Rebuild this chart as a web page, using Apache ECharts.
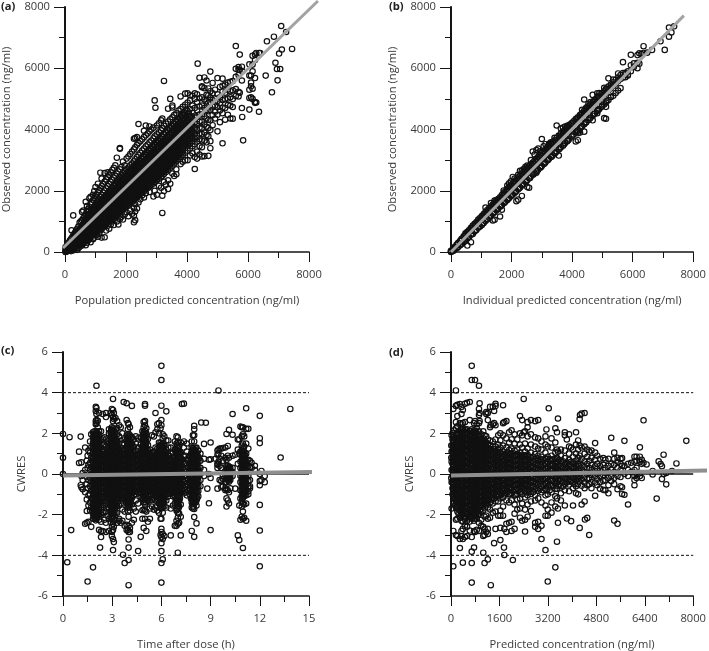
<!DOCTYPE html>
<html><head><meta charset="utf-8">
<style>html,body{margin:0;padding:0;background:#fff}#c{width:709px;height:651px}</style>
<script src="https://cdn.jsdelivr.net/npm/echarts@6/dist/echarts.min.js"></script></head>
<body><div id="c"></div>
<script>
// Each row: [x, [y, y, ...]]
const panelA = [
[15,[0,50,150]],[45,[10,90,170]],[80,[30,130,230]],[120,[40,180,300]],[160,[70,220,370]],[200,[30,130,270,430]],[215,[710]],[270,[1195]],
[240,[90,190,330,490]],[280,[60,150,260,400,560]],[320,[120,240,350,480,620]],[360,[170,290,420,560,690]],[400,[70,210,340,470,620,760]],
[440,[130,260,390,520,680,830]],[480,[170,300,440,570,730,960]],[520,[240,350,490,620,780,1000]],[560,[210,310,430,560,690,840,1040,1310]],
[600,[280,390,510,640,770,900,1100,1350]],[640,[340,460,580,700,830,970,1160]],[680,[220,410,530,650,770,900,1040,1240,1640]],
[720,[300,470,600,720,840,960,1110,1330,1500]],[760,[380,540,660,780,900,1020,1180,1400]],[800,[440,590,720,840,960,1080,1240,1480,1750]],
[840,[320,500,640,760,880,1000,1130,1300,1560,1800]],[880,[560,700,820,940,1060,1190,1350,1620]],[920,[420,610,750,870,990,1110,1240,1420,1700,1870]],
[960,[470,660,800,920,1040,1160,1290,1480,1760,1990]],[1000,[540,720,850,970,1090,1210,1340,1550,1820,2120]],[1040,[640,770,900,1020,1140,1260,1390,1620,1880]],
[1080,[500,700,820,950,1070,1190,1310,1450,1680,1950,2230]],[1120,[600,760,880,1000,1120,1240,1370,1510,1740,2020]],[1160,[700,820,940,1060,1180,1300,1430,1580,1810,2090,2590]],
[1200,[470,760,880,1000,1120,1240,1360,1490,1640,1870,2150,2400]],[1250,[800,940,1060,1180,1300,1420,1550,1700,1940,2220]],[1300,[480,860,1000,1120,1240,1360,1490,1620,1780,2010,2300,2580]],
[1350,[700,920,1060,1180,1300,1420,1550,1680,1840,2080,2370]],[1400,[860,980,1120,1240,1360,1490,1620,1750,1910,2150,2450,2600]],[1450,[760,1040,1170,1300,1430,1560,1690,1820,1980,2220,2520]],
[1500,[900,1090,1220,1350,1480,1610,1740,1870,2050,2290,2600]],[1550,[1000,1150,1280,1410,1540,1670,1800,1930,2110,2360,2680]],[1600,[880,1080,1210,1340,1470,1600,1730,1860,2000,2180,2430,2750]],
[1650,[1130,1260,1390,1520,1650,1780,1910,2050,2240,2490,2830]],[1700,[1000,1180,1310,1440,1570,1700,1830,1960,2110,2310,2560,3080]],[1750,[900,1240,1370,1500,1630,1760,1890,2020,2170,2370,2630]],
[1800,[1080,1290,1420,1550,1680,1810,1940,2070,2230,2440,2700,3370,3395]],[1850,[1150,1340,1470,1600,1730,1860,1990,2120,2290,2500,2770]],[1900,[1060,1390,1520,1650,1780,1910,2040,2180,2350,2570,2950]],
[1960,[1230,1440,1570,1700,1830,1960,2090,2240,2410,2630,2830]],[2020,[1300,1490,1620,1750,1880,2010,2140,2290,2470,2700,3050]],[2080,[1170,1540,1670,1800,1930,2060,2190,2340,2530,2760,3120]],
[2140,[1350,1590,1720,1850,1980,2110,2240,2400,2590,2830,3200]],[2200,[1250,1640,1770,1900,2030,2160,2300,2450,2650,2890,3280]],[2260,[970,1180,1440,1690,1820,1950,2080,2210,2350,2510,2710,2960,3350,3700]],
[2300,[1040,1320,1560,1740,1870,2000,2130,2260,2400,2570,2770,3030,3420,3720]],[2360,[1420,1790,1920,2050,2180,2310,2450,2620,2840,3100,3500,3750]],[2410,[1620,1840,1970,2100,2230,2360,2500,2680,2900,3170,3560,4180]],
[2470,[1720,1890,2020,2150,2280,2410,2560,2740,2970,3240,3620]],[2530,[1850,1940,2070,2200,2330,2460,2610,2800,3030,3310,3680]],[2590,[1780,1990,2120,2250,2380,2510,2670,2860,3090,3380,3750,3960]],
[2650,[1920,2040,2170,2300,2430,2570,2730,2920,3160,3450,3810,4130]],[2710,[2090,2220,2350,2480,2620,2790,2980,3220,3510,3870]],[2770,[1960,2140,2270,2400,2530,2680,2850,3050,3290,3580,3940,4100]],
[2830,[2190,2320,2450,2590,2740,2910,3110,3350,3640,4000]],[2900,[1810,2240,2370,2500,2640,2800,2980,3180,3420,3710,4060]],[2940,[2000,2290,2420,2550,2700,2860,3040,3250,3490,3780,4950]],
[2965,[4710]],[3010,[1870,2340,2470,2610,2760,2920,3100,3310,3550,3840,4130]],[3080,[2160,2390,2520,2670,2820,2990,3170,3380,3620,3910,4200]],
[3150,[2100,2440,2580,2730,2880,3050,3240,3450,3690,3970,4300]],[3190,[1275,1840,2490,2640,2790,2950,3120,3310,3520,3760,4040,4360]],[3245,[1990,2290,2550,2700,2860,3020,3190,3380,3590,3830,4120,5585]],
[3310,[2200,2610,2770,2930,3090,3260,3450,3660,3900,4190]],[3380,[2060,2340,2680,2840,3000,3160,3330,3520,3730,3970,4260,4680]],[3450,[2230,2750,2910,3070,3230,3400,3590,3800,4040,4330,5000]],
[3520,[2560,2820,2980,3140,3300,3470,3660,3870,4110,4400,4720,4780]],[3580,[2480,2890,3050,3210,3370,3540,3730,3940,4180,4470]],[3650,[2540,2700,2960,3120,3280,3440,3610,3800,4010,4250,4530]],
[3720,[3030,3190,3350,3510,3680,3870,4080,4320,4620]],[3790,[2870,3100,3260,3420,3580,3750,3940,4150,4390,4670,5080]],[3860,[2950,3170,3330,3490,3650,3820,4010,4220,4460,4740]],
[3940,[3000,3240,3400,3560,3720,3890,4080,4290,4530,4810,5170]],[4020,[3000,3310,3470,3630,3790,3960,4150,4360,4600,4880,5180]],[4100,[3150,3380,3540,3700,3860,4030,4220,4430,4670,4950,5120]],
[4180,[3220,3450,3620,3790,3960,4140,4330,4540,4780,5100]],[4255,[2710,3100,3520,3700,3870,4050,4240,4450,4700,5000,5180]],[4330,[3050,3280,3600,3790,3980,4180,4400,4630,4900,5150]],
[4350,[6150]],[4410,[3180,3460,3680,3870,4060,4270,4490,4750,5020,5690]],[4490,[3120,3420,3640,3850,4040,4250,4500,4780,5050,5380,5410]],[4570,[3130,3630,3900,4160,4430,4700,4980,5350,5700]],
[4640,[3580,3820,4090,4360,4640,4920,5130,5600]],[4700,[3140,3780,4050,4320,4600,4870,5120,5340]],[4765,[3390,3620,3980,4300,4640,4880,5050,5250,5890]],[4840,[4140,4470,4750,4960,5180,5520]],
[4920,[4360,4580,4780,5020,5300]],[5000,[3940,4480,4730,4930,5150,5680]],[5080,[4240,4620,4850,5050,5390]],[5165,[3550,4530,4720,4960,5240,5430,5660]],[5250,[4320,4700,4990,5200,5470]],
[5340,[4480,4800,5010,5300,5530]],[5420,[4360,4780,5050,5250,5560]],[5500,[4355,4735,5000,5280,5580]],[5600,[5090,5320,5720,5980,6725]],[5690,[5080,5230,5780,5950,6040]],
[5730,[6445,5950,5200]],[5800,[4700,5600,6050]],[5810,[4410,5900]],[5840,[3645]],[6045,[4650,5300,5030,5760,6130]],[6100,[5050,5530,5760,5410]],[6150,[5000,5330,5900,6410,6120]],
[6230,[4870,4900,5680,6270,6450]],[6270,[6500,4880]],[6360,[4580,6500]],[6400,[6500]],[6580,[5760]],[6620,[6880]],[6785,[5215]],[6850,[7030]],[6900,[6180]],[6950,[5975]],[6970,[5605]],
[7020,[6480]],[7055,[5975]],[7088,[7380]],[7110,[6610]],[7250,[7185]],[7445,[6630]],
// denser middle of the cloud
[300,[190,300,410,530]],[380,[240,370,500,640]],[460,[340,450,590,700]],[540,[270,400,530,660,800]],[620,[320,440,560,680,800,930]],[700,[360,480,600,700,820,940,1080,1200]],
[780,[460,600,710,820,930,1050,1190,1320]],[820,[500,650,770,890,1010,1140]],[860,[530,640,770,890,1010,1120,1260,1410]],[900,[590,720,840,960,1080,1200,1330]],[940,[560,700,810,930,1050,1170,1290,1430]],
[985,[640,760,880,1000,1120,1240,1370,1480]],[1020,[680,800,910,1030,1150,1280,1400,1510]],[1060,[720,850,970,1100,1220,1340,1470]],[1100,[730,840,960,1080,1200,1320,1440,1580]],[1140,[790,910,1030,1150,1270,1390,1530]],
[1180,[810,930,1050,1170,1290,1410,1540,1680]],[1225,[850,970,1090,1210,1330,1450,1590,1730]],[1270,[870,1000,1120,1240,1370,1490,1620,1770]],[1320,[930,1050,1180,1300,1430,1560,1690,1830]],[1370,[960,1090,1210,1340,1480,1610,1740,1880]],
[1420,[1020,1150,1280,1410,1540,1670,1810,1950]],[1470,[1090,1220,1340,1470,1600,1730,1860,2010]],[1525,[1100,1230,1360,1490,1620,1750,1890,2040]],[1580,[1140,1270,1400,1530,1670,1800,1940,2090]],[1630,[1190,1320,1460,1590,1730,1860,2000,2150]],
[1680,[1240,1370,1500,1640,1770,1910,2050,2200]],[1730,[1290,1430,1560,1700,1830,1970,2110,2260]],[1780,[1340,1480,1610,1750,1880,2010,2150,2300]],[1830,[1390,1530,1660,1800,1930,2060,2200,2360]],[1880,[1430,1570,1710,1850,1980,2120,2260,2420]],
[1930,[1480,1620,1760,1890,2030,2170,2310,2480]],[1990,[1530,1670,1810,1950,2090,2230,2370,2540]],[2050,[1580,1720,1860,2000,2140,2280,2430,2600]],[2110,[1630,1770,1910,2050,2190,2330,2490,2660]],[2170,[1680,1820,1960,2100,2240,2380,2540,2720]],
[2230,[1730,1870,2010,2150,2290,2430,2590,2780]],[2280,[1780,1920,2060,2190,2330,2480,2640,2830]],[2340,[1830,1970,2110,2250,2390,2540,2700,2890]],[2390,[1880,2030,2170,2310,2450,2600,2760,2950]],[2440,[1930,2080,2220,2360,2500,2650,2820,3010]],
[2500,[1980,2130,2270,2410,2560,2710,2880,3070]],[2560,[2040,2180,2320,2470,2620,2770,2940,3130]],[2620,[2090,2240,2380,2520,2670,2830,3000,3200]],[2680,[2140,2290,2430,2580,2730,2890,3060,3260]],[2740,[2190,2340,2490,2640,2790,2950,3130,3330]],
[2800,[2240,2390,2540,2690,2850,3010,3190,3390]],[2870,[2300,2450,2600,2750,2910,3080,3260,3460]],[2930,[2360,2510,2660,2820,2980,3150,3330,3530]],[2990,[2410,2560,2720,2880,3040,3210,3400,3600]],[3050,[2460,2620,2780,2940,3100,3270,3460,3660]],
[3110,[2530,2680,2840,3000,3160,3330,3520,3720]],[3170,[2580,2740,2900,3060,3220,3400,3590,3790]],[3230,[2640,2800,2960,3120,3280,3460,3650,3850]],[3290,[2690,2850,3010,3180,3350,3520,3710,3910]],[3350,[2760,2920,3080,3240,3410,3590,3780,3980]],
[3420,[2830,2990,3150,3310,3480,3650,3840,4050]],[3490,[2900,3060,3220,3380,3550,3720,3910,4110]],[3550,[2960,3120,3280,3450,3620,3800,3990,4190]],[3620,[3030,3190,3360,3530,3700,3880,4070,4260]],[3690,[3110,3270,3430,3600,3770,3950,4140,4330]],
[3760,[3180,3340,3500,3670,3840,4020,4210,4400]],[3830,[3250,3410,3580,3750,3920,4100,4290,4480]],[3900,[3480,3650,3820,3990,4170,4360,4550]],[3980,[3560,3730,3900,4070,4250,4440,4640]],[4060,[3630,3800,3970,4150,4330,4520]],[4140,[3710,3880,4060,4240,4420]]
];
const panelB = [
[0,[0,20,40]],[60,[30,90]],[120,[80,160]],[180,[120,230]],[240,[170,300]],[300,[220,360]],[360,[270,440]],[420,[320,510]],[480,[370,420,560,610]],[540,[210,440,600,660]],
[600,[490,660,720]],[660,[320,560,730,790]],[720,[590,790,860]],[780,[670,850,920]],[840,[720,920,980]],[900,[790,990,1060]],[960,[830,1040,1110]],[1020,[880,1110,1170]],
[1080,[950,1180,1240]],[1140,[1010,1240,1310,1450]],[1200,[1070,1300,1370]],[1260,[1120,1360,1430]],[1320,[1190,1420,1490,1600]],[1380,[1030,1250,1480,1550]],[1440,[1050,1310,1540,1610,1680]],
[1500,[1360,1600,1670,1690]],[1560,[1420,1660,1730,1710]],[1620,[1160,1480,1720,1790]],[1680,[1380,1530,1780,1860]],[1740,[1590,1840,1930,2010]],[1800,[1650,1910,1990]],[1860,[1700,1980,2060,2170]],
[1920,[1760,2040,2120,2240]],[1980,[1820,2100,2180,2310]],[2040,[1880,2160,2240,2450]],[2100,[1930,2220,2310,2400]],[2160,[1660,1990,2280,2370]],[2220,[1710,2050,2340,2440,2520]],[2280,[2110,2400,2500,2650]],
[2340,[1830,2170,2460,2560,2660]],[2400,[2230,2520,2620,2710]],[2460,[2290,2580,2680,2780]],[2520,[2120,2350,2640,2740,2820]],[2580,[2100,2410,2700,2800]],[2640,[2470,2760,2860,3000]],[2700,[2520,2820,2920,3280]],
[2760,[2580,2880,2980,3180]],[2820,[2590,2640,2940,3050,3330]],[2880,[2690,3000,3110,3380]],[2940,[2750,3060,3170,3290]],[3000,[2810,3120,3240,3690]],[3060,[2870,3180,3300,3450]],[3120,[2930,3240,3360,3520]],
[3180,[2990,3300,3420]],[3240,[3050,3360,3480,3530]],[3300,[3100,3420,3540,3580]],[3360,[3160,3480,3590]],[3420,[3220,3540,3650,3730]],[3490,[3280,3610,3730,4130]],[3560,[3150,3350,3680,3800]],
[3630,[3420,3750,3870,4030]],[3700,[3470,3820,3940,4060]],[3770,[3560,3890,4010,4100]],[3840,[3620,3960,4080,4120]],[3910,[3700,4030,4150]],[3980,[3770,4100,4200]],[4050,[3840,4170,4270]],
[4120,[3610,3910,4240,4340]],[4190,[3650,3880,3970,4300,4400]],[4260,[3900,4040,4370,4470]],[4330,[4110,4430,4540,4640]],[4400,[3930,4170,4510,4620,4980]],[4470,[4240,4570,4690,4720]],[4540,[4310,4640,4760,4840]],
[4610,[4380,4710,4830,4900]],[4680,[4300,4450,4780,4900,5130]],[4750,[4520,4850,4970,4980]],[4830,[4530,4600,4920,5040,5180]],[4900,[4670,4990,5110,5190]],[4980,[4740,5060,5180]],[5060,[4370,4820,5140,5250,5360]],
[5120,[4350,4740,4880,5210,5330]],[5200,[4960,5280,5400,5670]],[5280,[5060,5350,5470]],[5360,[5100,5420,5540,5630]],[5440,[5190,5500,5620]],[5520,[5270,5580,5700,5830]],[5600,[5350,5650,5780]],
[5680,[5700,5840,6200]],[5760,[5710,5850,5800]],[5840,[5760,5780,5900]],[5940,[5900,6100,6440]],[6040,[6040,6160]],[6160,[6000,6180,6430]],[6220,[6150,6490]],[6290,[6460]],[6360,[6720,6500]],[6480,[6510]],
[6640,[6600]],[6920,[6880]],[7060,[6600]],[7200,[7330,7030]],[7280,[7170]],[7370,[7370]],
// denser middle of the band
[90,[50,130]],[210,[140,260]],[330,[250,400]],[450,[370,530]],[570,[480,660]],[690,[600,770]],[810,[710,900]],[930,[830,1020]],[1050,[940,1150]],[1170,[1060,1270]],[1290,[1180,1400]],[1410,[1290,1530]],
[1530,[1400,1650]],[1650,[1510,1770]],[1770,[1620,1890]],[1890,[1740,2020]],[2010,[1850,2140]],[2130,[1970,2270]],[2250,[2080,2390]],[2370,[2190,2510]],[2490,[2310,2640]],[2610,[2420,2760]],[2730,[2540,2890]],
[2850,[2650,3010]],[2970,[2770,3140]],[3090,[2890,3260]],[3210,[3010,3390]],[3330,[3120,3510]],[3450,[3240,3640]],[3590,[3380,3790]],[3730,[3510,3930]],[3870,[3650,4070]],[4010,[3800,4210]],[4160,[3940,4360]],
[4300,[4080,4500]],[4440,[4220,4640]],[4580,[4360,4780]],[4720,[4500,4920]],[4860,[4640,5060]],[5000,[4780,5180]],[5140,[4920,5310]],[5280,[5060,5440]]
];
const panelC = [
[0,[0,0.8,1.97]],[0.26,[-4.34]],[0.4,[1.81]],[0.5,[-2.76]],[0.98,[0.54,1.1]],[1.08,[1.84,-0.55]],[1.12,[0.57,-0.65,-0.1]],[1.2,[0.05,-0.3,-0.75]],[1.35,[1.3,0.2,-0.9,-2.45]],
[1.45,[0.65,-0.15,-0.5,-1.25,-1.82,-2.4]],[1.5,[-5.29,0.3,0.9,-0.7]],[1.55,[1.15,0.45,-0.3,-1.05,-1.55,-2.35]],[1.65,[1.6,1.05,0.55,0.2,-0.2,-0.6,-1,-1.4,-1.8]],[1.72,[1.95,1.3,0.8,0.35,0,-0.4,-0.8,-1.2,-1.65,-2.6]],
[1.83,[-4.59,2.05,1.8,1.55,1.3,1.05,0.8,0.55,0.3,0.05,-0.2,-0.45,-0.7,-0.95,-1.2,-1.45,-1.7,-1.95,-2.2]],
[1.92,[2.1,1.88,1.66,1.42,1.18,0.94,0.7,0.46,0.22,-0.02,-0.26,-0.5,-0.74,-0.98,-1.22,-1.46,-1.7,-1.94,-2.2]],
[2,[3.3,3.1,2.6,2.45,1.98,1.76,1.54,1.3,1.06,0.82,0.58,0.34,0.1,-0.14,-0.38,-0.62,-0.86,-1.1,-1.34,-1.58,-1.82,-2.06,-2.28]],
[2.04,[4.34,3.24,2.95,2.65,2.5,2.1,1.88,1.64,1.4,1.16,0.92,0.68,0.44,0.2,-0.04,-0.28,-0.52,-0.76,-1,-1.24,-1.48,-1.72,-1.96,-2.2]],
[2.12,[2.62,2.3,2,1.76,1.52,1.28,1.04,0.8,0.56,0.32,0.08,-0.16,-0.4,-0.64,-0.88,-1.12,-1.36,-1.6,-1.84,-2.08]],
[2.2,[3,2.1,1.84,1.6,1.36,1.12,0.88,0.64,0.4,0.16,-0.08,-0.32,-0.56,-0.8,-1.04,-1.28,-1.52,-1.76,-2,-2.25,-2.75]],[2.26,[-3.62]],
[2.32,[2.1,1.7,1.3,1,0.72,0.46,0.2,-0.06,-0.32,-0.58,-0.84,-1.1,-1.36,-1.66,-2,-2.35,-2.82,-3.1]],[2.42,[2.95,1.75,1.4,1.1,0.84,0.58,0.32,0.06,-0.2,-0.46,-0.72,-0.98,-1.24,-1.54,-1.9,-2.8]],
[2.52,[1.8,1.45,1.16,0.9,0.64,0.38,0.12,-0.14,-0.4,-0.66,-0.92,-1.2,-1.55,-1.9,-2.25]],[2.62,[3,2.8,1.7,1.35,1.02,0.74,0.48,0.22,-0.04,-0.3,-0.56,-0.82,-1.1,-1.45,-1.85,-2.4,-2.85]],
[2.72,[1.6,1.25,0.95,0.68,0.42,0.16,-0.1,-0.36,-0.62,-0.88,-1.15,-1.5,-2.05]],[2.8,[2.2,2,1.55,1.2,0.9,0.62,0.36,0.1,-0.16,-0.42,-0.68,-0.94,-1.25,-1.7,-2.2,-2.8]],
[2.9,[3,2.05,1.8,1.5,1.2,0.92,0.64,0.38,0.12,-0.14,-0.4,-0.66,-0.92,-1.2,-1.5,-1.85,-2.1,-2.35]],
[2.98,[3.2,2.9,2.3,2.1,1.88,1.64,1.4,1.16,0.92,0.68,0.44,0.2,-0.04,-0.28,-0.52,-0.76,-1,-1.24,-1.48,-1.72,-1.96,-2.2,-2.6,-2.85,-3.05]],
[3.05,[3.69,3.15,2.8,2.6,2.25,2,1.76,1.52,1.28,1.04,0.8,0.56,0.32,0.08,-0.16,-0.4,-0.64,-0.88,-1.12,-1.36,-1.6,-1.84,-2.1,-2.45,-2.75,-3.2,-3.74]],
[3.1,[3,2.7,2.15,1.9,1.66,1.42,1.18,0.94,0.7,0.46,0.22,-0.02,-0.26,-0.5,-0.74,-0.98,-1.22,-1.46,-1.7,-1.95,-2.3,-2.6,-3.35]],
[3.2,[2.75,2.2,1.96,1.72,1.48,1.24,1,0.76,0.52,0.28,0.04,-0.2,-0.44,-0.68,-0.92,-1.16,-1.4,-1.64,-1.9,-2.25]],
[3.3,[2.6,2.25,1.95,1.65,1.35,1.08,0.82,0.56,0.3,0.04,-0.22,-0.48,-0.74,-1,-1.26,-1.56,-1.9,-2.4]],[3.42,[2.4,1.85,1.5,1.2,0.94,0.68,0.42,0.16,-0.1,-0.36,-0.62,-0.88,-1.18,-1.55,-2.3,-2.2]],
[3.52,[2.3,1.65,1.3,1.02,0.76,0.5,0.24,-0.02,-0.28,-0.54,-0.8,-1.08,-1.45,-2.4]],[3.62,[2,1.5,1.15,0.88,0.62,0.36,0.1,-0.16,-0.42,-0.68,-0.96,-1.3,-1.75,-2.3]],[3.66,[-3.97]],[3.7,[3.54]],[3.76,[-4.38,1.7,1.25,0.95,0.68,0.42,0.16,-0.1,-0.36,-0.62,-0.9,-1.25,-1.85,-2.55]],
[3.88,[3.48,2.65,1.9,1.6,1.32,1.06,0.8,0.54,0.28,0.02,-0.24,-0.5,-0.76,-1.02,-1.3,-1.6,-2.5,-2.75]],[3.96,[2.5,2.2,1.84,1.58,1.34,1.1,0.86,0.62,0.38,0.14,-0.1,-0.34,-0.58,-0.82,-1.06,-1.3,-1.55,-1.85,-2.75]],
[4,[-5.47,-4.23,-3.62,-3.22,-2.85,2.45,1.98,1.72,1.48,1.24,1,0.76,0.52,0.28,0.04,-0.2,-0.44,-0.68,-0.92,-1.16,-1.4,-1.66,-2.1,-2.55]],
[4.08,[2.3,1.9,1.64,1.4,1.16,0.92,0.68,0.44,0.2,-0.04,-0.28,-0.52,-0.76,-1,-1.24,-1.5,-1.8,-2.65,-2.85]],[4.2,[3.35,1.8,1.5,1.25,1,0.76,0.52,0.28,0.04,-0.2,-0.44,-0.68,-0.92,-1.18,-1.5,-2.4]],
[4.32,[1.7,1.35,1.06,0.8,0.54,0.28,0.02,-0.24,-0.5,-0.76,-1.05,-1.7,-2.25]],[4.44,[1.85,1.5,1.15,0.86,0.6,0.34,0.08,-0.18,-0.44,-0.7,-0.98,-1.3,-1.85]],[4.58,[-3.79,1.75,1.3,0.98,0.7,0.44,0.18,-0.08,-0.34,-0.6,-0.9,-1.45]],
[4.74,[-3.09,1.8,1.45,1.1,0.8,0.52,0.26,0,-0.26,-0.52,-0.8,-1.15]],[4.84,[2.1,1.7,1.35,1.04,0.76,0.5,0.24,-0.02,-0.28,-0.54,-0.82,-1.2,-1.78,-2.2]],
[4.92,[2.55,2.3,2.05,1.8,1.55,1.3,1.06,0.82,0.58,0.34,0.1,-0.14,-0.38,-0.62,-0.86,-1.1,-1.4,-1.75,-2.65]],[5,[3.44,3.36,2.6,2.4,2.12,1.88,1.64,1.4,1.16,0.92,0.68,0.44,0.2,-0.04,-0.28,-0.52,-0.76,-1,-1.25,-1.5,-1.8,-2.2]],
[5.08,[2.25,2,1.76,1.52,1.28,1.04,0.8,0.56,0.32,0.08,-0.16,-0.4,-0.64,-0.88,-1.12,-1.4,-1.85,-2.8]],[5.18,[1.72,1.42,1.16,0.92,0.68,0.44,0.2,-0.04,-0.28,-0.52,-0.76,-1.02,-1.3,-2.35]],
[5.3,[1.2,0.96,0.72,0.48,0.24,0,-0.24,-0.48,-0.72,-0.98,-1.3,-1.7,-2.2]],[5.42,[1.9,1.05,0.8,0.56,0.32,0.08,-0.16,-0.4,-0.64,-0.9,-1.25,-1.6]],[5.54,[1.85,1.1,0.85,0.6,0.36,0.12,-0.12,-0.36,-0.6,-0.86,-1.2,-1.75]],
[5.64,[3,2.05,1.3,0.95,0.68,0.42,0.16,-0.1,-0.36,-0.62,-0.9,-1.3,-1.65]],[5.75,[2.45,2.2,1.25,0.92,0.66,0.4,0.14,-0.12,-0.38,-0.64,-0.94,-1.35,-1.8]],[5.85,[2.5,2,1.55,1.25,1,0.74,0.48,0.22,-0.04,-0.3,-0.56,-0.82,-1.1,-1.45,-1.9]],
[5.95,[2.25,1.55,1.3,1.06,0.82,0.58,0.34,0.1,-0.14,-0.38,-0.62,-0.86,-1.1,-1.35,-1.65,-2.2,-3]],[6,[5.32,4.62,3.36,2.65,2.4,1.45,1.2,0.96,0.72,0.48,0.24,0,-0.24,-0.48,-0.72,-0.96,-1.2,-1.44,-1.7,-2.2,-2.7,-2.85,-3.1,-3.4,-3.79,-4.38,-5.34]],
[6.08,[-4.2,1.95,1.75,1.52,1.28,1.04,0.8,0.56,0.32,0.08,-0.16,-0.4,-0.64,-0.88,-1.12,-1.36,-1.62,-1.9,-2.95,-3.2]],[6.18,[1.85,1.4,1.16,0.92,0.68,0.44,0.2,-0.04,-0.28,-0.52,-0.76,-1,-1.28,-1.58,-3.05]],
[6.3,[3.08,1.65,1.2,0.94,0.7,0.46,0.22,-0.02,-0.26,-0.5,-0.74,-1,-1.3,-1.65]],[6.42,[1.65,1.3,0.92,0.66,0.42,0.18,-0.06,-0.3,-0.54,-0.8,-1.1]],[6.57,[-3.02,1.3,1,0.74,0.48,0.22,-0.04,-0.3,-0.56,-0.82,-1.7]],
[6.7,[1.05,0.8,0.54,0.28,0.02,-0.24,-0.5,-0.78,-1.1,-1.55]],[6.82,[1.6,1.2,0.8,0.54,0.28,0.02,-0.24,-0.5,-0.8,-1.1,-1.45,-2.55]],[6.92,[1.85,1.5,1.18,0.92,0.68,0.44,0.2,-0.04,-0.28,-0.52,-0.76,-1,-1.24,-1.5,-1.8,-2.3,-2.55]],
[7,[-3.87,1.8,1.55,1.28,1.04,0.8,0.56,0.32,0.08,-0.16,-0.4,-0.64,-0.88,-1.12,-1.36,-1.6,-1.9,-2.15,-2.45]],[7.08,[1.35,1.12,0.88,0.64,0.4,0.16,-0.08,-0.32,-0.56,-0.8,-1.04,-1.3,-1.6,-1.95,-2.4]],
[7.18,[-3.02,1.55,1.05,0.8,0.56,0.32,0.08,-0.16,-0.4,-0.64,-0.9,-1.5,-2.1]],[7.25,[3.44]],[7.37,[3.46,1.6,1.3,0.85,0.5,0.2,-0.1,-0.4,-0.7,-0.95]],[7.55,[1.5,1.1,0.72,0.42,0.12,-0.18,-0.48,-0.78,-1.05]],
[7.72,[0.85,0.5,0.2,-0.1,-0.4,-0.7,-1]],[7.85,[1.6,1.3,1.05,0.8,0.56,0.32,0.08,-0.16,-0.4,-0.64,-0.88,-1.12,-1.4,-1.65,-2.8]],[7.92,[1.9,1.25,1.02,0.78,0.54,0.3,0.06,-0.18,-0.42,-0.66,-0.9,-1.14,-1.4,-1.7]],
[8,[2.37,2.2,1.9,1.6,1.2,0.96,0.72,0.48,0.24,0,-0.24,-0.48,-0.72,-0.96,-1.2,-1.45,-1.72,-2.12,-3.09]],[8.08,[1.28,1.04,0.8,0.56,0.32,0.08,-0.16,-0.4,-0.64,-0.88,-1.12,-1.4]],[8.14,[-2.43,1.3,0.9,0.66,0.42,0.18,-0.06,-0.3,-0.54,-0.78,-1.02,-1.3,-1.55]],
[8.25,[1.15,0.85,0.6,0.36,0.12,-0.12,-0.36,-0.6,-0.84,-1.1]],[8.38,[1,0.65,0.3,0,-0.3,-0.6]],[8.43,[2.53]],[8.6,[1.48,0.75,0.2,-0.1]],[8.71,[2.52]],[8.8,[-0.72]],[8.9,[-1.44,0.7,0]],[9,[1.55,-2.76,-0.2,0.72]],[9.3,[0.75]],
[9.42,[1.15,0.95,0.5,0.45,-0.72,0.3]],[9.48,[4.11,1.2,1,0.6]],[9.55,[1.25,0.75,0.4,-0.3]],[9.65,[1.25,0.9,0.3,-0.65,-0.35]],[9.75,[1.28,0.65,-0.25,-0.6,-0.1]],[9.9,[1.3,0.8,0.15,-0.1,-0.4,-0.7,-0.8]],
[9.97,[1.97,0.7,0.4,0.2,0,-0.2,-0.4,-0.75,-1.2,-1.6]],[10.05,[1.38,0.9,0.42,0.28,0.14,0,-0.14,-0.3,-0.8,-1.3]],[10.12,[2.17,0.8,0.36,0.22,0.08,-0.08,-0.22,-0.38,-0.9,-1.45]],[10.2,[0.3,0.15,0,-0.15,-0.3,-0.7]],[10.34,[2.95,1.93,0.9,0.3,0.1,-0.1]],
[10.5,[0.95,-0.72]],[10.66,[1.7,1.2,-3.02,0.5]],[10.75,[-3.25,1.7,1,-1.55]],[10.82,[2.33,1.1,0.6,0.3,-0.1,-0.4,-0.8,-1.2,-2.25]],[10.9,[2.3,1.85,1.4,1.1,0.85,0.6,0.36,0.12,-0.12,-0.36,-0.6,-0.84,-1.08,-1.35,-1.6,-2.1]],
[10.97,[-3.64,2.3,1.95,1.5,1.25,1,0.76,0.52,0.28,0.04,-0.2,-0.44,-0.68,-0.92,-1.16,-1.45,-1.85,-2.2]],[11.05,[1.85,1.35,1.08,0.84,0.6,0.36,0.12,-0.12,-0.36,-0.6,-0.84,-1.1,-1.5,-2.15]],[11.17,[3.23,2.22,1.5,1,0.7,0.45,0.2,-0.05,-0.3,-0.55,-0.8,-1.05,-1.45,-2.3]],
[11.3,[2.22,1.25,0.7,0.4,0.15,-0.1,-0.35,-0.6,-0.85,-1]],[11.4,[0.65,0.35,-0.3,-0.6,-0.7]],[11.5,[0.55,0.3]],[11.7,[0.4,0.2]],[12,[2.86,1.76,1.52,-0.35,-0.55,0,-1.52,-2.78,-4.54]],[12.1,[-0.3,0.15]],[12.3,[-0.1,-0.4]],[13.27,[0.81]],[13.86,[3.2]],
// denser middle of each time column
[1.88,[1.95,1.7,1.45,1.2,0.95,0.7,0.45,0.2,-0.08,-0.33,-0.58,-0.83,-1.08,-1.33,-1.58,-1.83,-2.08]],[1.97,[1.9,1.65,1.42,1.18,0.94,0.7,0.46,0.22,-0.02,-0.26,-0.5,-0.74,-0.98,-1.22,-1.46,-1.7,-1.94,-2.18]],
[2.08,[1.95,1.7,1.46,1.22,0.98,0.74,0.5,0.26,0.02,-0.22,-0.46,-0.7,-0.94,-1.18,-1.42,-1.66,-1.9,-2.14]],[2.16,[1.9,1.66,1.42,1.18,0.94,0.7,0.46,0.22,-0.02,-0.26,-0.5,-0.74,-0.98,-1.22,-1.46,-1.7,-1.94]],
[2.37,[1.2,0.9,0.6,0.34,0.08,-0.18,-0.44,-0.7,-0.96,-1.22]],[2.47,[0.95,0.7,0.44,0.18,-0.08,-0.34,-0.6,-0.86,-1.12]],[2.57,[1,0.76,0.5,0.24,-0.02,-0.28,-0.54,-0.8,-1.06]],[2.67,[0.9,0.62,0.36,0.1,-0.16,-0.42,-0.68,-0.94]],[2.76,[1.05,0.78,0.52,0.26,0,-0.26,-0.52,-0.78,-1.04]],[2.85,[1.35,1.06,0.78,0.5,0.24,-0.02,-0.28,-0.54,-0.8,-1.08,-1.4]],
[2.94,[2.2,1.98,1.74,1.5,1.26,1.02,0.78,0.54,0.3,0.06,-0.18,-0.42,-0.66,-0.9,-1.14,-1.38,-1.62,-1.86]],[3.02,[2.15,1.9,1.66,1.42,1.18,0.94,0.7,0.46,0.22,-0.02,-0.26,-0.5,-0.74,-0.98,-1.22,-1.46,-1.7,-1.95]],[3.14,[2.05,1.82,1.58,1.34,1.1,0.86,0.62,0.38,0.14,-0.1,-0.34,-0.58,-0.82,-1.06,-1.3,-1.54,-1.8]],
[3.25,[1.6,1.36,1.12,0.88,0.64,0.4,0.16,-0.08,-0.32,-0.56,-0.8,-1.04,-1.28,-1.52]],[3.36,[1.3,1.02,0.76,0.5,0.24,-0.02,-0.28,-0.54,-0.8,-1.06,-1.35]],[3.47,[1.1,0.86,0.6,0.34,0.08,-0.18,-0.44,-0.7,-0.98]],[3.57,[0.95,0.68,0.42,0.16,-0.1,-0.36,-0.62,-0.9,-1.2]],[3.67,[1,0.75,0.48,0.22,-0.04,-0.3,-0.56,-0.84,-1.15]],[3.82,[1.2,0.94,0.68,0.42,0.16,-0.1,-0.36,-0.62,-0.88,-1.16]],
[3.92,[1.75,1.5,1.24,1,0.74,0.5,0.26,0.02,-0.22,-0.46,-0.7,-0.94,-1.18,-1.42]],[4.04,[1.85,1.6,1.36,1.12,0.88,0.64,0.4,0.16,-0.08,-0.32,-0.56,-0.8,-1.04,-1.28,-1.55]],[4.14,[1.55,1.3,1.06,0.82,0.58,0.34,0.1,-0.14,-0.38,-0.62,-0.86,-1.12,-1.4]],
[4.26,[1.15,0.9,0.64,0.38,0.12,-0.14,-0.4,-0.66,-0.92]],[4.38,[0.95,0.7,0.44,0.18,-0.08,-0.34,-0.6,-0.86]],[4.5,[0.95,0.72,0.46,0.2,-0.06,-0.32,-0.58,-0.84]],[4.66,[1,0.72,0.46,0.2,-0.06,-0.32,-0.58,-0.88]],[4.78,[1.2,0.9,0.62,0.36,0.1,-0.16,-0.42,-0.68,-0.96]],
[4.88,[1.95,1.7,1.44,1.18,0.94,0.7,0.46,0.22,-0.02,-0.26,-0.5,-0.74,-0.98,-1.24]],[4.96,[2,1.76,1.52,1.28,1.04,0.8,0.56,0.32,0.08,-0.16,-0.4,-0.64,-0.88,-1.12,-1.38]],[5.04,[1.95,1.7,1.46,1.22,0.98,0.74,0.5,0.26,0.02,-0.22,-0.46,-0.7,-0.94,-1.18]],
[5.24,[1.05,0.8,0.56,0.32,0.08,-0.16,-0.4,-0.64,-0.88,-1.14]],[5.36,[0.92,0.68,0.44,0.2,-0.04,-0.28,-0.52,-0.78,-1.05]],[5.48,[0.96,0.72,0.48,0.24,0,-0.24,-0.48,-0.74,-1]],[5.6,[0.82,0.56,0.3,0.04,-0.22,-0.48,-0.76,-1.05]],[5.7,[0.78,0.52,0.26,0,-0.26,-0.52,-0.8,-1.12]],[5.8,[1.1,0.86,0.6,0.34,0.08,-0.18,-0.44,-0.7,-0.96,-1.25]],
[5.9,[1.4,1.18,0.94,0.7,0.46,0.22,-0.02,-0.26,-0.5,-0.74,-0.98,-1.22,-1.48]],[5.98,[1.35,1.1,0.86,0.62,0.38,0.14,-0.1,-0.34,-0.58,-0.82,-1.06,-1.32,-1.58]],[6.04,[1.42,1.16,0.92,0.68,0.44,0.2,-0.04,-0.28,-0.52,-0.76,-1,-1.26,-1.52]],[6.13,[1.3,1.04,0.8,0.56,0.32,0.08,-0.16,-0.4,-0.64,-0.88,-1.14,-1.42]],
[6.24,[1.05,0.82,0.58,0.34,0.1,-0.14,-0.38,-0.62,-0.86,-1.14]],[6.36,[0.8,0.54,0.3,0.06,-0.18,-0.42,-0.68,-0.96]],[6.5,[0.88,0.6,0.34,0.08,-0.18,-0.44,-0.7,-0.98]],[6.62,[0.66,0.4,0.14,-0.12,-0.38,-0.66,-0.95]],[6.76,[0.68,0.42,0.16,-0.1,-0.36,-0.64,-0.94]],
[6.87,[1.05,0.68,0.42,0.16,-0.1,-0.36,-0.62,-0.9,-1.25]],[6.96,[1.42,1.16,0.92,0.68,0.44,0.2,-0.04,-0.28,-0.52,-0.76,-1,-1.24,-1.48,-1.74]],[7.04,[1.25,1,0.76,0.52,0.28,0.04,-0.2,-0.44,-0.68,-0.92,-1.16,-1.42,-1.7]],[7.13,[1,0.76,0.52,0.28,0.04,-0.2,-0.44,-0.68,-0.94,-1.2]],
[7.3,[0.7,0.34,0.04,-0.26,-0.55,-0.82]],[7.46,[0.9,0.55,0.26,-0.04,-0.32,-0.62,-0.9]],[7.64,[0.65,0.32,0.02,-0.28,-0.56,-0.85]],[7.8,[0.98,0.68,0.42,0.16,-0.1,-0.36,-0.62,-0.9,-1.2]],
[7.88,[1.15,0.9,0.66,0.42,0.18,-0.06,-0.3,-0.54,-0.78,-1.02,-1.28]],[7.96,[1.28,1.08,0.84,0.6,0.36,0.12,-0.12,-0.36,-0.6,-0.84,-1.08,-1.34,-1.6]],[8.04,[1.15,0.92,0.68,0.44,0.2,-0.04,-0.28,-0.52,-0.76,-1,-1.26]],[8.18,[1.02,0.78,0.54,0.3,0.06,-0.18,-0.42,-0.66,-0.92,-1.2]],
[10.01,[0.3,0.16,0.02,-0.12,-0.26]],[10.16,[0.34,0.2,0.04,-0.1,-0.24]],[10.93,[1.15,0.94,0.7,0.46,0.22,-0.02,-0.26,-0.5,-0.74,-0.98,-1.22]],[11.01,[1.1,0.88,0.64,0.4,0.16,-0.08,-0.32,-0.56,-0.8,-1.04]],[11.1,[0.95,0.72,0.48,0.24,0,-0.24,-0.48,-0.72,-0.96]]
];
const panelD = [
[10,[1.4,0.8,-0.2]],[20,[1.9,1.1,0.6,0.2,-0.4,-1.7]],[50,[2,1.7,1.4,1.1,0.8,0.5,0.2,-0.1,-0.4,-0.7,-1]],[76,[3.2,-4.54,-2.8,1.55,1.25,0.95,0.65,0.35,0.05,-0.25,-0.55,-0.85,-1.15]],
[110,[2.15,1.85,1.6,1.3,1,0.7,0.4,0.1,-0.2,-0.5,-0.8,-1.1,-1.4]],[163,[4.11,3.35,2.55,2.25,1.95,1.65,1.35,1.05,0.75,0.45,0.15,-0.15,-0.45,-0.75,-1.05,-1.35,-1.65,-2.25,-3]],
[210,[3.4,2.85,2.35,2.05,1.75,1.45,1.15,0.85,0.55,0.25,-0.05,-0.35,-0.65,-0.95,-1.25,-1.55,-1.85,-2.2,-3.05]],[293,[3.44,2.5,2.1,1.8,1.5,1.2,0.9,0.6,0.3,0,-0.3,-0.6,-0.9,-1.2,-1.5,-1.8,-2.15,-3.2,-3.64]],
[345,[3.3,2.95,2.45,2.2,1.9,1.6,1.3,1,0.7,0.4,0.1,-0.2,-0.5,-0.8,-1.1,-1.4,-1.7,-2,-2.3,-2.8,-3.05]],[391,[-4.36,3.15,2.5,2.2,1.9,1.6,1.3,1,0.7,0.4,0.1,-0.2,-0.5,-0.8,-1.1,-1.4,-1.7,-2,-2.35,-2.7,-3.2]],
[460,[3.45,2.55,2.2,1.95,1.7,1.42,1.14,0.86,0.58,0.3,0.02,-0.26,-0.54,-0.82,-1.1,-1.38,-1.66,-1.94,-2.22,-2.55,-3.1]],[530,[3.5,2.2,1.95,1.68,1.4,1.12,0.84,0.56,0.28,0,-0.28,-0.56,-0.84,-1.12,-1.4,-1.68,-1.96,-2.3,-2.6,-3.05]],
[620,[3.54,2.65,2.12,1.85,1.58,1.3,1.02,0.74,0.46,0.18,-0.1,-0.38,-0.66,-0.94,-1.22,-1.5,-1.78,-2.06,-2.34,-2.78]],[685,[5.32,4.62,-3.82,-4.38,-5.34,2.2,1.96,1.7,1.44,1.18,0.92,0.66,0.4,0.14,-0.12,-0.38,-0.64,-0.9,-1.16,-1.42,-1.68,-1.94,-2.2,-3.1]],
[761,[-3.62,2.5,2.15,1.9,1.64,1.38,1.12,0.86,0.6,0.34,0.08,-0.18,-0.44,-0.7,-0.96,-1.22,-1.48,-1.74,-2,-2.3,-2.8]],[793,[4.62,2.6,2.05,1.8,1.55,1.3,1.05,0.8,0.55,0.3,0.05,-0.2,-0.45,-0.7,-0.95,-1.2,-1.45,-1.7,-1.95,-2.2,-2.85]],
[850,[2.45,2.25,2,1.74,1.48,1.22,0.96,0.7,0.44,0.18,-0.08,-0.34,-0.6,-0.86,-1.12,-1.38,-1.64,-1.9,-2.2,-2.75]],[924,[4.34,3.2,2.9,2.5,2.1,1.85,1.6,1.35,1.1,0.85,0.6,0.35,0.1,-0.15,-0.4,-0.65,-0.9,-1.15,-1.4,-1.65,-1.95,-2.4,-2.8]],
[945,[3.48,3,2.6]],[1000,[1.95,1.7,1.45,1.2,0.95,0.7,0.45,0.2,-0.05,-0.3,-0.55,-0.8,-1.05,-1.3,-1.55,-1.85,-2.25,-2.55]],[1065,[-3.87,2.1,1.75,1.5,1.25,1,0.75,0.5,0.25,0,-0.25,-0.5,-0.75,-1,-1.25,-1.5,-1.8,-2.6,-3.05]],
[1109,[-4.38,1.9,1.65,1.4,1.15,0.9,0.65,0.4,0.15,-0.1,-0.35,-0.6,-0.85,-1.1,-1.35,-1.65,-2.1,-2.7,-3]],[1165,[3.05,2.95,1.85,1.55,1.3,1.05,0.8,0.55,0.3,0.05,-0.2,-0.45,-0.7,-0.95,-1.2,-1.5,-2.05,-2.85]],
[1217,[-4.2,3,2.65,1.7,1.45,1.2,0.95,0.7,0.45,0.2,-0.05,-0.3,-0.55,-0.8,-1.05,-1.3,-1.65,-2.2,-2.7,-2.95]],[1290,[3.3,2.3,1.65,1.4,1.15,0.9,0.65,0.4,0.15,-0.1,-0.35,-0.6,-0.85,-1.1,-1.4,-1.75,-2.15]],
[1315,[-5.47,2.4]],[1380,[3.3,2.45,1.6,1.35,1.1,0.85,0.6,0.35,0.1,-0.15,-0.4,-0.65,-0.9,-1.15,-1.45,-1.9]],[1424,[-3.4,2.5,3.1]],[1470,[3.45,3.35,2.4,1.7,1.35,1.12,0.88,0.64,0.4,0.16,-0.08,-0.32,-0.56,-0.8,-1.05,-1.35,-1.85,-2.7]],
[1560,[1.9,1.45,1.18,0.94,0.7,0.46,0.22,-0.02,-0.26,-0.5,-0.74,-1,-1.35,-2.05]],[1630,[-3.25,2,1.65,1.3,1.04,0.8,0.56,0.32,0.08,-0.16,-0.4,-0.64,-0.9,-1.2,-1.8,-2.05,-2.65]],[1720,[3.38,2.5,1.9,1.4,1.1,0.86,0.62,0.38,0.14,-0.1,-0.34,-0.58,-0.84,-1.15,-1.6,-2.05]],
[1750,[-3.62]],[1761,[-3.98,2.55,-2.7]],[1830,[2.6,1.75,1.3,1.02,0.78,0.54,0.3,0.06,-0.18,-0.42,-0.66,-0.92,-1.3,-2.45,-2.85]],[1920,[2.05,1.55,1.18,0.94,0.7,0.46,0.22,-0.02,-0.26,-0.5,-0.74,-1,-1.4,-2.4]],
[2000,[2.15,1.7,1.25,1,0.76,0.52,0.28,0.04,-0.2,-0.44,-0.68,-0.94,-1.3,-2.35,-2.8]],[2043,[-4.23]],[2100,[1.95,1.5,1.15,0.9,0.66,0.42,0.18,-0.06,-0.3,-0.54,-0.8,-1.05,-1.5,-1.95,-2.7]],[2190,[1.7,1.2,0.96,0.72,0.48,0.24,0,-0.24,-0.48,-0.72,-0.98,-1.25,-1.75]],
[2280,[2.85,2,1.45,1.05,0.82,0.58,0.34,0.1,-0.14,-0.38,-0.62,-0.88,-1.2,-1.7,-2.15]],[2350,[2.65,1.9,1.3,0.95,0.72,0.48,0.24,0,-0.24,-0.48,-0.72,-1,-1.45,-2.3]],[2402,[3.69,2.05]],[2446,[-2.83,2.1,1.5,1.1,0.86,0.62,0.38,0.14,-0.1,-0.34,-0.58,-0.84,-1.15,-1.75,-2.25]],
[2530,[2.3,2.55,1.85,1.25,0.95,0.7,0.46,0.22,-0.02,-0.26,-0.5,-0.76,-1.05,-1.5,-2.1]],[2640,[2.65,1.95,1.45,1.05,0.78,0.54,0.3,0.06,-0.18,-0.42,-0.68,-0.98,-1.35,-1.82]],[2780,[2.6,1.8,1.35,0.98,0.72,0.48,0.24,0,-0.24,-0.48,-0.74,-1.05,-1.3,-2.6,-2.4]],
[2880,[2.65,1.75,1.25,0.9,0.66,0.42,0.18,-0.06,-0.3,-0.54,-0.82,-1.2,-2.35,-2.7]],[2989,[-3.2,1.6,1.2,0.85,0.6,0.36,0.12,-0.12,-0.36,-0.6,-0.9,-1.4,-2.55]],[3120,[-3.74,1.85,1.45,1.05,0.75,0.5,0.26,0.02,-0.22,-0.46,-0.72,-1.05,-1.55,-2.05]],[3152,[2.19]],
[3196,[-5.29,1.35,0.85,0.6,0.36,0.12,-0.12,-0.36,-0.62,-1,-1.75,-2.05]],[3228,[3.23]],[3320,[1.75,1.3,0.9,0.64,0.4,0.16,-0.08,-0.32,-0.58,-0.9,-1.4,-1.9]],[3446,[-4.59,2.25,1.55,1.05,0.74,0.5,0.26,0.02,-0.22,-0.46,-0.74,-1.1,-1.6]],
[3500,[-3.33,2.05,1.2,0.8,0.56,0.32,0.08,-0.16,-0.42,-0.72,-1.2]],[3533,[2.73,-2.4,1.1,0.6,0.2,-0.3,-1.7]],[3630,[1.2,0.9,0.62,0.38,0.14,-0.1,-0.34,-0.6,-0.95,-1.3]],[3760,[2.05,1.9,1.15,0.78,0.5,0.26,0.02,-0.22,-0.48,-0.8,-1.55]],
[3826,[-2.19,1.7]],[3900,[1.95,1.35,1,0.7,0.46,0.22,-0.02,-0.26,-0.52,-0.85]],[3967,[-2.32,1.3]],[4030,[1.2,0.85,0.56,0.32,0.08,-0.16,-0.42,-0.7,-1.55]],[4130,[2.05,1.45,1,0.66,0.4,0.16,-0.08,-0.32,-0.6,-0.95]],
[4200,[1.65,1.2,0.8,0.5,0.26,0.02,-0.22,-0.5,-1]],[4250,[2.7,-2.65,1.4,0.9]],[4261,[2.9]],[4315,[2.97,1.3,0.75,0.44,0.2,-0.04,-0.28,-0.58,-1.5]],[4413,[3,1.35,1,0.62,0.34,0.1,-0.14,-0.42,-0.7,-1.35]],[4424,[-2.24]],[4500,[-2.16,1.2,0.85,0.5,0.25,0,-0.25,-0.55]],
[4565,[-3,1.1,0.65,0.3,0.05,-0.2,-0.5]],[4640,[1.15,0.8,0.45,0.2,-0.05,-0.4,-0.7]],[4761,[1.52,1.05,0.7,0.38,0.14,-0.1,-0.42,-1.07]],[4830,[0.9,0.5,0.26,0.02,-0.25,-0.55]],[4920,[0.75,0.4,0.15,-0.1,-0.4,-0.72]],
[5030,[0.78,0.45,0.2,-0.05,-0.35,-0.78]],[5100,[0.7,0.3,0.05,-0.3,-0.8]],[5200,[0.75,0.4,0.1,-0.2,-0.55,-0.95]],[5293,[1.78,0.5,0.2,-0.1,-0.35]],[5391,[-2.29,1.05,0.75,0.45,0.1,-0.2,-0.5]],[5500,[-2.45,0.8,0.6,0.3,-0.1,-0.75]],
[5600,[0.75,0.5,0.2,-0.15,-0.6]],[5650,[0.78,0.4,-0.65,-0.98]],[5728,[1.63,-1.02,0.4,0]],[5848,[-1.5,0.5,0.2,-0.1]],[5950,[0.55,0.1]],[6060,[0.85,0.6,0.2,-0.1,-0.3,-0.55]],[6130,[0.85,0.65,0.3,0,-0.2]],[6239,[1.31,0.85,0.6,-0.1]],
[6300,[0.7,0.5,-0.2]],[6359,[2.64,0.55]],[6460,[0.47]],[6660,[0.15,-0.02]],[6793,[-1.21]],[6859,[0.62]],[6924,[0.49]],[6967,[0.38,-0.25]],[7022,[0.95,0]],[7109,[-0.51,0.05]],[7300,[0.15]],[7446,[0.52]],[7772,[1.63]],
// denser middle of the cloud
[80,[1.4,1.1,0.8,0.5,0.2,-0.1,-0.4,-0.7,-1]],[135,[1.75,1.45,1.15,0.85,0.55,0.25,-0.05,-0.35,-0.65,-0.95,-1.25,-1.55]],[190,[1.9,1.6,1.3,1,0.7,0.4,0.1,-0.2,-0.5,-0.8,-1.1,-1.4,-1.7]],[250,[1.95,1.65,1.35,1.05,0.75,0.45,0.15,-0.15,-0.45,-0.75,-1.05,-1.35,-1.65,-1.95]],
[320,[2.05,1.75,1.45,1.15,0.85,0.55,0.25,-0.05,-0.35,-0.65,-0.95,-1.25,-1.55,-1.85,-2.15]],[370,[2.05,1.75,1.45,1.15,0.85,0.55,0.25,-0.05,-0.35,-0.65,-0.95,-1.25,-1.55,-1.85]],[425,[2.1,1.82,1.54,1.26,0.98,0.7,0.42,0.14,-0.14,-0.42,-0.7,-0.98,-1.26,-1.54,-1.82,-2.1]],
[495,[2.08,1.8,1.52,1.24,0.96,0.68,0.4,0.12,-0.16,-0.44,-0.72,-1,-1.28,-1.56,-1.84,-2.12]],[575,[2.02,1.74,1.46,1.18,0.9,0.62,0.34,0.06,-0.22,-0.5,-0.78,-1.06,-1.34,-1.62,-1.9,-2.18]],[650,[2.1,1.84,1.58,1.3,1.04,0.78,0.52,0.26,0,-0.26,-0.52,-0.78,-1.04,-1.3,-1.56,-1.82,-2.08]],
[725,[2.03,1.77,1.51,1.25,0.99,0.73,0.47,0.21,-0.05,-0.31,-0.57,-0.83,-1.09,-1.35,-1.61,-1.87,-2.13]],[775,[1.92,1.68,1.42,1.18,0.92,0.68,0.42,0.18,-0.08,-0.32,-0.58,-0.82,-1.08,-1.32,-1.58,-1.82,-2.08]],[820,[2.1,1.86,1.6,1.35,1.09,0.83,0.57,0.31,0.05,-0.21,-0.47,-0.73,-0.99,-1.25,-1.51,-1.77,-2.03]],
[885,[1.85,1.6,1.34,1.08,0.83,0.57,0.32,0.06,-0.2,-0.46,-0.72,-0.98,-1.24,-1.5,-1.76,-2]],[960,[1.72,1.47,1.22,0.97,0.72,0.47,0.22,-0.03,-0.28,-0.53,-0.78,-1.03,-1.28,-1.53,-1.78]],[1030,[1.6,1.36,1.12,0.88,0.62,0.38,0.12,-0.12,-0.38,-0.62,-0.88,-1.12,-1.38,-1.62]],
[1085,[1.58,1.32,1.06,0.82,0.57,0.32,0.07,-0.18,-0.43,-0.68,-0.93,-1.18,-1.43]],[1140,[1.42,1.18,0.92,0.68,0.42,0.18,-0.08,-0.32,-0.58,-0.82,-1.08,-1.32]],[1190,[1.3,1.06,0.82,0.58,0.32,0.08,-0.16,-0.42,-0.68,-0.92,-1.18,-1.42]],[1255,[1.28,1.03,0.78,0.53,0.28,0.03,-0.22,-0.47,-0.72,-0.97,-1.22]],
[1335,[1.22,0.98,0.72,0.48,0.22,-0.02,-0.28,-0.52,-0.78,-1.02,-1.28]],[1425,[1.22,1,0.76,0.52,0.28,0.02,-0.22,-0.48,-0.72,-0.96,-1.2]],[1515,[1.05,0.82,0.58,0.34,0.1,-0.14,-0.38,-0.62,-0.86,-1.1]],[1595,[1.08,0.84,0.6,0.36,0.12,-0.12,-0.36,-0.6,-0.84,-1.08]],
[1675,[1,0.74,0.5,0.26,0.02,-0.22,-0.46,-0.7,-0.96]],[1775,[0.95,0.7,0.46,0.22,-0.02,-0.26,-0.5,-0.74,-1]],[1875,[1.05,0.82,0.58,0.34,0.1,-0.14,-0.38,-0.62,-0.88]],[1960,[0.98,0.74,0.5,0.26,0.02,-0.22,-0.46,-0.72,-1]],[2050,[0.9,0.66,0.42,0.18,-0.06,-0.3,-0.56,-0.84]],
[2145,[0.94,0.7,0.46,0.22,-0.02,-0.26,-0.5,-0.76,-1.02]],[2235,[0.92,0.68,0.44,0.2,-0.04,-0.28,-0.52,-0.78]],[2315,[0.85,0.6,0.36,0.12,-0.12,-0.36,-0.6,-0.88]],[2400,[0.92,0.68,0.44,0.2,-0.04,-0.28,-0.52,-0.78]],[2490,[0.88,0.62,0.38,0.14,-0.1,-0.34,-0.58,-0.86]],
[2585,[0.85,0.6,0.36,0.12,-0.12,-0.36,-0.6,-0.88]],[2710,[0.85,0.58,0.34,0.1,-0.14,-0.38,-0.62,-0.9]],[2830,[0.8,0.54,0.3,0.06,-0.18,-0.42,-0.68]],[2935,[0.74,0.48,0.24,0,-0.24,-0.48,-0.74]],[3050,[0.72,0.46,0.22,-0.02,-0.26,-0.52,-0.8]],
[3160,[0.75,0.48,0.24,0,-0.24,-0.5,-0.78]],[3260,[0.72,0.46,0.22,-0.02,-0.26,-0.52,-0.8]],[3380,[0.74,0.48,0.22,-0.04,-0.3,-0.56]],[3470,[0.6,0.36,0.12,-0.12,-0.36,-0.6]],[3570,[0.7,0.44,0.18,-0.06,-0.3,-0.56]],[3700,[0.62,0.36,0.12,-0.12,-0.38,-0.62]],
[3830,[0.55,0.3,0.06,-0.18,-0.42]],[3960,[0.6,0.34,0.1,-0.14,-0.38]],[4080,[0.5,0.26,0.02,-0.24,-0.5]],[4230,[0.4,0.14,-0.12,-0.36]]
];
// Fitted lines [x, y]
const fitA = [[0,130],[8290,8196]];
const fitB = [[0,0],[7690,7720]];
const fitC = [[0,-0.05],[15.18,0.12]];
const fitD = [[0,-0.05],[8359,0.2]];
const cutUp = 4, cutDown = -4;
const xTicksConc = 2000, xTicksTime = 3, xTicksPred = 1600;
const names = {
  a:['Population predicted concentration (ng/ml)','Observed concentration (ng/ml)'],
  b:['Individual predicted concentration (ng/ml)','Observed concentration (ng/ml)'],
  c:['Time after dose (h)','CWRES'],
  d:['Predicted concentration (ng/ml)','CWRES']
};
const flat = rows => rows.flatMap(r => r[1].map(y => [r[0], y]));
const FONT = '"Open Sans", "Noto Sans", sans-serif';
const TXT = '#3a3a3a', INK = '#141414', FS = 11.2;
const grids = [
 {left:63,top:7,width:246,height:245},{left:451,top:7,width:245,height:245},
 {left:63,top:352,width:246,height:245},{left:451,top:352,width:245,height:245}];
const axisBase = (type,i) => ({
  type:'value', gridIndex:i, splitLine:{show:false},
  axisLine:{show:true,onZero:false,lineStyle:{color:INK,width:type==='y'?2:1.6}},
  axisTick:{show:true,length:type==='y'?11:10,lineStyle:{color:INK,width:1}},
  minorTick:{show:true,splitNumber:2,length:6,lineStyle:{color:INK,width:1}},
  axisLabel:{color:TXT,fontFamily:FONT,fontSize:FS,margin:type==='y'?15:17,showMinLabel:true,showMaxLabel:true,formatter:v=>String(v)},
  nameTextStyle:{color:TXT,fontFamily:FONT,fontSize:FS},nameLocation:'middle'
});
const xAxis = [
 {...axisBase('x',0),min:0,max:8000,interval:xTicksConc,name:names.a[0],nameGap:43},
 {...axisBase('x',1),min:0,max:8000,interval:xTicksConc,name:names.b[0],nameGap:43},
 {...axisBase('x',2),min:0,max:15,interval:xTicksTime,name:names.c[0],nameGap:43},
 {...axisBase('x',3),min:0,max:8000,interval:xTicksPred,name:names.d[0],nameGap:43}];
const yAxis = [
 {...axisBase('y',0),min:0,max:8000,interval:2000,name:names.a[1],nameGap:53},
 {...axisBase('y',1),min:0,max:8000,interval:2000,name:names.b[1],nameGap:53},
 {...axisBase('y',2),min:-6,max:6,interval:2,name:names.c[1],nameGap:36},
 {...axisBase('y',3),min:-6,max:6,interval:2,name:names.d[1],nameGap:36}];
// Hidden, slightly wider scales so that the fitted lines can run past the axis ends, as in the picture
const over = (g,xTop,xEnd,yBottom,yTop,yEnd) => {
  const k = grids[g], w = k.width*xEnd/xTop, h = k.height*(yEnd-yBottom)/(yTop-yBottom);
  grids.push({left:k.left,top:k.top+k.height-h,width:w,height:h});
  const i = grids.length-1;
  xAxis.push({type:'value',gridIndex:i,show:false,min:0,max:xEnd});
  yAxis.push({type:'value',gridIndex:i,show:false,min:yBottom,max:yEnd});
  return i;
};
const oA = over(0,8000,fitA[1][0],0,8000,fitA[1][1]);
const oC = over(2,15,fitC[1][0],-6,6,6);
const oD = over(3,8000,fitD[1][0],-6,6,6);
const pts = (rows,i) => ({type:'scatter',xAxisIndex:i,yAxisIndex:i,data:flat(rows),symbol:'circle',symbolSize:5.4,
  itemStyle:{color:'rgba(0,0,0,0)',borderColor:'#111',borderWidth:1.2,opacity:1},silent:true,animation:false,large:false,clip:false,z:2});
const line = (data,i,color,width,type,z) => ({type:'line',xAxisIndex:i,yAxisIndex:i,data,symbol:'none',clip:false,silent:true,animation:false,
  lineStyle:{color,width,type:type||'solid'},z:z||5});
const series = [
 pts(panelA,0),pts(panelB,1),pts(panelC,2),pts(panelD,3),
 line(fitA,oA,'#a3a3a3',3),line(fitB,1,'#a3a3a3',3),
 line([[0,0],[15,0]],2,'#111',1.4,null,3),line([[0,0],[8000,0]],3,'#111',1.4,null,3),
 line([[0,cutUp],[15,cutUp]],2,'#111',1,[3,2]),line([[0,cutDown],[15,cutDown]],2,'#111',1,[3,2]),
 line([[0,cutUp],[8000,cutUp]],3,'#111',1,[3,2]),line([[0,cutDown],[8000,cutDown]],3,'#111',1,[3,2]),
 line(fitC,oC,'#8f8f8f',4),line(fitD,oD,'#8f8f8f',4)
];
const tag = (text,left,top) => ({text,left,top,padding:0,textStyle:{fontFamily:FONT,fontSize:FS,fontWeight:'bold',color:'#222'}});
const chart = echarts.init(document.getElementById('c'),null,{renderer:'canvas'});
chart.setOption({animation:false,backgroundColor:'#fff',
  title:[tag('(a)',1,1),tag('(b)',389,1),tag('(c)',1,345),tag('(d)',389,347)],
  grid:grids,xAxis,yAxis,series});
</script></body></html>
